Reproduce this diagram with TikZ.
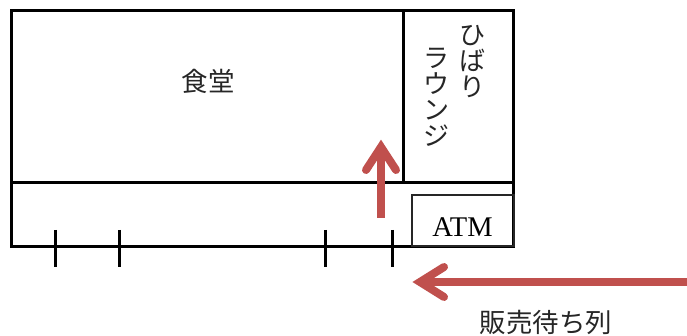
\documentclass[tikz,border=0pt]{standalone}
\usepackage{fontspec}
\setmainfont{Liberation Serif}
\newfontfamily\cjk{Noto Sans CJK JP}
\definecolor{redarrow}{HTML}{C0504D}
\tikzset{
  wall/.style={draw=black,line width=3pt},
  thinwall/.style={draw=black!85,line width=2pt},
  tick/.style={draw=black,line width=3pt},
  flowline/.style={draw=redarrow,line width=8pt},
  flowhead/.style={draw=redarrow,line width=8pt,line cap=round,line join=miter,miter limit=10},
  label/.style={font=\cjk\fontsize{26.5}{26.5}\selectfont,inner sep=0pt,text=black!85},
  vlabel/.style={font=\cjk\fontsize{26}{26}\selectfont,inner sep=0pt,align=center,text=black!85},
}
\begin{document}
\begin{tikzpicture}[x=1pt,y=-1pt]
\useasboundingbox (0,0) rectangle (687,336);
\fill[white] (0,0) rectangle (687,336);
\coordinate (tl) at (11.5,10.5);
\coordinate (tr) at (513.5,10.5);
\coordinate (ml) at (11.5,182.5);
\coordinate (mr) at (513.5,182.5);
\coordinate (bl) at (11.5,246.5);
\coordinate (br) at (513.5,246.5);
\coordinate (dt) at (403.5,10.5);
\coordinate (db) at (403.5,182.5);
\draw[wall,line join=miter] (bl) -- (tl) -- (tr) -- (br) -- cycle;
\draw[wall] (ml) -- (mr);
\draw[wall] (dt) -- (db);
\node[thinwall,rectangle,minimum width=102pt,minimum height=51pt,inner sep=0pt,anchor=south west] (atm) at (411,247) {};
\node[font=\fontsize{28.5}{28.5}\selectfont,inner sep=0pt,text=black] (atmlabel) at (462.5,227) {ATM};
\foreach \x/\n in {55.5/a,119.5/b,325.5/c,392.5/d}{
  \coordinate (t\n) at (\x,230);
  \coordinate (u\n) at (\x,267);
  \draw[tick] (t\n) -- (u\n);
}
\node[label] (shokudo) at (208,81) {食堂};
\node[vlabel,anchor=north] (hibari) at (472,25) {ひ\\ば\\り};
\node[vlabel,anchor=north] (lounge) at (436,48) {ラ\\ウ\\ン\\ジ};
\node[label] (queue) at (546,322) {販売待ち列};
% up arrow
\coordinate (ua) at (381,218);
\coordinate (ub) at (381,147);
\draw[flowline] (ua) -- (ub);
\draw[flowhead] (366,170) -- (ub) -- (396,170);
% left arrow
\coordinate (la) at (687,282);
\coordinate (lb) at (420,282);
\draw[flowline] (la) -- (lb);
\draw[flowhead] (444,267) -- (lb) -- (444,297);
\end{tikzpicture}
\end{document}
